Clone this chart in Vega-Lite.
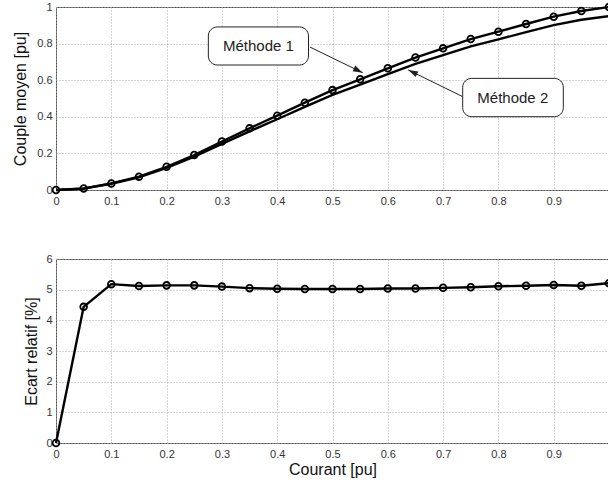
{
  "$schema": "https://vega.github.io/schema/vega-lite/v6.json",
  "padding": {"left": 12, "top": -1, "right": 0, "bottom": 0},
  "bounds": "flush",
  "spacing": 69,
  "background": "white",
  "config": {
    "font": "Liberation Sans",
    "view": {"stroke": "#555", "strokeWidth": 1},
    "axis": {
      "domain": false,
      "ticks": false,
      "grid": true,
      "gridColor": "#aaa",
      "gridDash": [1, 2],
      "gridWidth": 1,
      "labelFont": "Liberation Sans",
      "labelFontSize": 11,
      "labelColor": "#333",
      "labelOverlap": false,
      "labelBound": false,
      "labelFlush": false,
      "titleFont": "Liberation Sans",
      "titleFontSize": 16,
      "titleFontWeight": "normal",
      "titleColor": "#111",
      "labelPadding": 5
    }
  },
  "datasets": {
    "curves": [
      {"courant": 0, "couple": 0, "methode": "Méthode 1"},
      {"courant": 0.05, "couple": 0.008, "methode": "Méthode 1"},
      {"courant": 0.1, "couple": 0.036, "methode": "Méthode 1"},
      {"courant": 0.15, "couple": 0.073, "methode": "Méthode 1"},
      {"courant": 0.2, "couple": 0.127, "methode": "Méthode 1"},
      {"courant": 0.25, "couple": 0.191, "methode": "Méthode 1"},
      {"courant": 0.3, "couple": 0.265, "methode": "Méthode 1"},
      {"courant": 0.35, "couple": 0.337, "methode": "Méthode 1"},
      {"courant": 0.4, "couple": 0.406, "methode": "Méthode 1"},
      {"courant": 0.45, "couple": 0.477, "methode": "Méthode 1"},
      {"courant": 0.5, "couple": 0.546, "methode": "Méthode 1"},
      {"courant": 0.55, "couple": 0.605, "methode": "Méthode 1"},
      {"courant": 0.6, "couple": 0.665, "methode": "Méthode 1"},
      {"courant": 0.65, "couple": 0.724, "methode": "Méthode 1"},
      {"courant": 0.7, "couple": 0.774, "methode": "Méthode 1"},
      {"courant": 0.75, "couple": 0.825, "methode": "Méthode 1"},
      {"courant": 0.8, "couple": 0.865, "methode": "Méthode 1"},
      {"courant": 0.85, "couple": 0.907, "methode": "Méthode 1"},
      {"courant": 0.9, "couple": 0.947, "methode": "Méthode 1"},
      {"courant": 0.95, "couple": 0.978, "methode": "Méthode 1"},
      {"courant": 1.0, "couple": 1.0, "methode": "Méthode 1"},
      {"courant": 0, "couple": 0, "methode": "Méthode 2"},
      {"courant": 0.05, "couple": 0.0077, "methode": "Méthode 2"},
      {"courant": 0.1, "couple": 0.0342, "methode": "Méthode 2"},
      {"courant": 0.15, "couple": 0.0694, "methode": "Méthode 2"},
      {"courant": 0.2, "couple": 0.1208, "methode": "Méthode 2"},
      {"courant": 0.25, "couple": 0.1817, "methode": "Méthode 2"},
      {"courant": 0.3, "couple": 0.2521, "methode": "Méthode 2"},
      {"courant": 0.35, "couple": 0.3208, "methode": "Méthode 2"},
      {"courant": 0.4, "couple": 0.3866, "methode": "Méthode 2"},
      {"courant": 0.45, "couple": 0.4542, "methode": "Méthode 2"},
      {"courant": 0.5, "couple": 0.5199, "methode": "Méthode 2"},
      {"courant": 0.55, "couple": 0.5761, "methode": "Méthode 2"},
      {"courant": 0.6, "couple": 0.6331, "methode": "Méthode 2"},
      {"courant": 0.65, "couple": 0.6893, "methode": "Méthode 2"},
      {"courant": 0.7, "couple": 0.7367, "methode": "Méthode 2"},
      {"courant": 0.75, "couple": 0.7851, "methode": "Méthode 2"},
      {"courant": 0.8, "couple": 0.8229, "methode": "Méthode 2"},
      {"courant": 0.85, "couple": 0.8627, "methode": "Méthode 2"},
      {"courant": 0.9, "couple": 0.9006, "methode": "Méthode 2"},
      {"courant": 0.95, "couple": 0.9303, "methode": "Méthode 2"},
      {"courant": 1.0, "couple": 0.9505, "methode": "Méthode 2"}
    ],
    "ecart": [
      {"courant": 0, "ecart": 0},
      {"courant": 0.05, "ecart": 4.44},
      {"courant": 0.1, "ecart": 5.18},
      {"courant": 0.15, "ecart": 5.12},
      {"courant": 0.2, "ecart": 5.14},
      {"courant": 0.25, "ecart": 5.14},
      {"courant": 0.3, "ecart": 5.10},
      {"courant": 0.35, "ecart": 5.05},
      {"courant": 0.4, "ecart": 5.03},
      {"courant": 0.45, "ecart": 5.02},
      {"courant": 0.5, "ecart": 5.02},
      {"courant": 0.55, "ecart": 5.02},
      {"courant": 0.6, "ecart": 5.04},
      {"courant": 0.65, "ecart": 5.04},
      {"courant": 0.7, "ecart": 5.06},
      {"courant": 0.75, "ecart": 5.08},
      {"courant": 0.8, "ecart": 5.11},
      {"courant": 0.85, "ecart": 5.13},
      {"courant": 0.9, "ecart": 5.15},
      {"courant": 0.95, "ecart": 5.13},
      {"courant": 1.0, "ecart": 5.21}
    ],
    "boxes": [
      {"label": "Méthode 1", "x1": 0.2755, "x2": 0.4566, "y1": 0.683, "y2": 0.891, "tx": 0.366, "ty": 0.787},
      {"label": "Méthode 2", "x1": 0.7354, "x2": 0.9174, "y1": 0.4005, "y2": 0.610, "tx": 0.826, "ty": 0.505}
    ],
    "arrows": [
      {"label": "Méthode 1", "xa": 0.4593, "ya": 0.781, "xb": 0.5546, "yb": 0.641},
      {"label": "Méthode 2", "xa": 0.7354, "ya": 0.510, "xb": 0.637, "yb": 0.656}
    ]
  },
  "vconcat": [
    {
      "width": 553,
      "height": 183,
      "layer": [
        {
          "data": {"name": "curves"},
          "mark": {"type": "line", "color": "black", "strokeWidth": 2.4},
          "encoding": {
            "x": {"field": "courant", "type": "quantitative", "scale": {"domain": [0, 1], "nice": false},
                  "axis": {"title": null, "values": [0, 0.1, 0.2, 0.3, 0.4, 0.5, 0.6, 0.7, 0.8, 0.9], "tickCount": 20, "format": "~g"}},
            "y": {"field": "couple", "type": "quantitative", "scale": {"domain": [0, 1], "nice": false},
                  "axis": {"title": "Couple moyen [pu]", "values": [0, 0.2, 0.4, 0.6, 0.8, 1], "tickCount": 20, "format": "~g", "titlePadding": 8, "labelPadding": 4}},
            "detail": {"field": "methode"}
          }
        },
        {
          "data": {"name": "curves"},
          "transform": [{"filter": "datum.methode === 'Méthode 1'"}],
          "mark": {"type": "point", "shape": "circle", "filled": false, "color": "black", "strokeWidth": 1.8, "size": 45, "opacity": 1},
          "encoding": {
            "x": {"field": "courant", "type": "quantitative"},
            "y": {"field": "couple", "type": "quantitative"}
          }
        },
        {
          "data": {"name": "arrows"},
          "mark": {"type": "rule", "color": "#222", "strokeWidth": 1},
          "encoding": {
            "x": {"field": "xa", "type": "quantitative"},
            "y": {"field": "ya", "type": "quantitative"},
            "x2": {"field": "xb"},
            "y2": {"field": "yb"}
          }
        },
        {
          "data": {"name": "arrows"},
          "transform": [{"filter": "datum.label === 'Méthode 1'"}],
          "mark": {"type": "point", "shape": "M0,0L-0.32,1L0.32,1Z", "filled": true, "color": "#222", "size": 380, "angle": 116, "opacity": 1},
          "encoding": {
            "x": {"field": "xb", "type": "quantitative"},
            "y": {"field": "yb", "type": "quantitative"}
          }
        },
        {
          "data": {"name": "arrows"},
          "transform": [{"filter": "datum.label === 'Méthode 2'"}],
          "mark": {"type": "point", "shape": "M0,0L-0.32,1L0.32,1Z", "filled": true, "color": "#222", "size": 380, "angle": 296, "opacity": 1},
          "encoding": {
            "x": {"field": "xb", "type": "quantitative"},
            "y": {"field": "yb", "type": "quantitative"}
          }
        },
        {
          "data": {"name": "boxes"},
          "mark": {"type": "rect", "fill": "white", "stroke": "#222", "strokeWidth": 1, "cornerRadius": 9},
          "encoding": {
            "x": {"field": "x1", "type": "quantitative"},
            "x2": {"field": "x2"},
            "y": {"field": "y1", "type": "quantitative"},
            "y2": {"field": "y2"}
          }
        },
        {
          "data": {"name": "boxes"},
          "mark": {"type": "text", "fontSize": 15, "color": "#222", "align": "center", "baseline": "middle", "font": "Liberation Sans"},
          "encoding": {
            "x": {"field": "tx", "type": "quantitative"},
            "y": {"field": "ty", "type": "quantitative"},
            "text": {"field": "label"}
          }
        }
      ]
    },
    {
      "width": 553,
      "height": 184,
      "data": {"name": "ecart"},
      "layer": [
        {
          "mark": {"type": "line", "color": "black", "strokeWidth": 2.4},
          "encoding": {
            "x": {"field": "courant", "type": "quantitative", "scale": {"domain": [0, 1], "nice": false},
                  "axis": {"title": "Courant [pu]", "values": [0, 0.1, 0.2, 0.3, 0.4, 0.5, 0.6, 0.7, 0.8, 0.9], "tickCount": 20, "format": "~g", "titlePadding": 2}},
            "y": {"field": "ecart", "type": "quantitative", "scale": {"domain": [0, 6], "nice": false},
                  "axis": {"title": "Ecart relatif [%]", "values": [0, 1, 2, 3, 4, 5, 6], "tickCount": 20, "format": "~g", "titlePadding": 6, "labelPadding": 4}}
          }
        },
        {
          "mark": {"type": "point", "shape": "circle", "filled": false, "color": "black", "strokeWidth": 1.8, "size": 45, "opacity": 1},
          "encoding": {
            "x": {"field": "courant", "type": "quantitative"},
            "y": {"field": "ecart", "type": "quantitative"}
          }
        }
      ]
    }
  ]
}
